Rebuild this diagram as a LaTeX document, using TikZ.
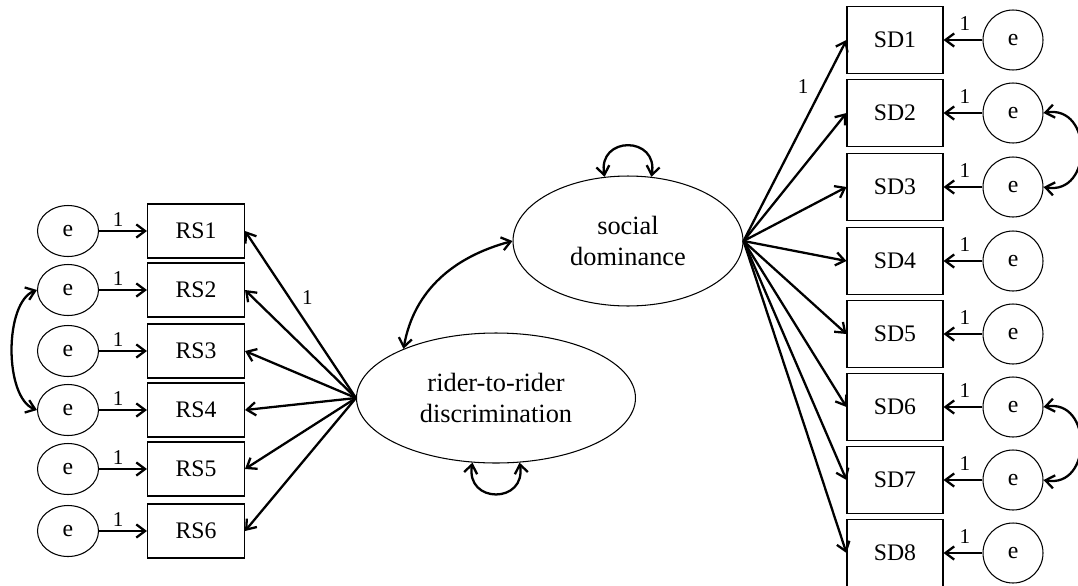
\documentclass[tikz,border=0pt]{standalone}
\usepackage{fontspec}
\setmainfont{Liberation Serif}
\usepackage{tikz}
\usetikzlibrary{
    arrows.meta,
    shapes.geometric
}

\begin{document}
\begin{tikzpicture}[x=0.02cm, y=0.02cm,
  latent/.style={draw, ellipse, line width=0.6pt, inner sep=0pt, minimum height=2.6cm, align=center, font=\fontsize{15}{17.6}\selectfont},
  obs/.style={draw, rectangle, line width=0.6pt, inner sep=0pt, font=\fontsize{13.5}{15}\selectfont},
  errl/.style={draw, ellipse, line width=0.6pt, inner sep=0pt, minimum width=1.22cm, minimum height=1.02cm, font=\fontsize{13.5}{15}\selectfont},
  errr/.style={draw, circle, line width=0.6pt, inner sep=0pt, minimum size=1.2cm, font=\fontsize{13.5}{15}\selectfont},
  load/.style={line width=1.3pt, -{Straight Barb[length=5pt, width=7.5pt]}},
  cov/.style={line width=1.3pt, {Straight Barb[length=5pt, width=7.5pt]}-{Straight Barb[length=5pt, width=7.5pt]}},
  wt/.style={font=\fontsize{12}{14}\selectfont, inner sep=2pt}]

  \useasboundingbox (0,0) rectangle (1078,-585);

  % Latent factors
  \node[latent, minimum width=5.58cm] (rider) at (496,-398) {rider-to-rider\\discrimination};
  \node[latent, minimum width=4.6cm] (social) at (628,-241) {social\\dominance};

  % Left indicators with errors
  \foreach \i/\y in {1/231, 2/290, 3/351, 4/410, 5/469, 6/531} {
    \node[obs, minimum width=1.94cm, minimum height=1.08cm] (RS\i) at (196,-\y) {RS\i};
    \node[errl] (eL\i) at (68,-\y) {e};
    \draw[load] (eL\i) -- node[wt, pos=0.4, above] {1} (RS\i);
    \draw[load] (rider.west) -- (RS\i.east);
  }

  % Right indicators with errors
  \foreach \i/\y in {1/40, 2/113, 3/187, 4/261, 5/334, 6/407, 7/480, 8/553} {
    \node[obs, minimum width=1.92cm, minimum height=1.34cm] (SD\i) at (895,-\y) {SD\i};
    \node[errr] (eR\i) at (1013,-\y) {e};
    \draw[load] (eR\i) -- node[wt, pos=0.45, above=3pt] {1} (SD\i);
    \draw[load] (social.east) -- (SD\i.west);
  }

  % Fixed loadings
  \path (rider.west) -- node[wt, pos=0.6, right=5pt] {1} (RS1.east);
  \path (social.east) -- node[wt, pos=0.77, left=6pt] {1} (SD1.west);

  % Variances
  \draw[cov] (rider.250) to[out=-100, in=-80, looseness=2.3] (rider.290);
  \draw[cov] (social.110) to[out=100, in=80, looseness=2.3] (social.70);

  % Covariances
  \draw[cov] (social.west) to[out=195, in=80] (rider.152);
  \draw[cov] (eL2.west) to[out=200, in=160, looseness=0.75] (eL4.west);
  \draw[cov] (eR2.east) to[out=10, in=-10, looseness=1.75] (eR3.east);
  \draw[cov] (eR6.east) to[out=10, in=-10, looseness=1.75] (eR7.east);

\end{tikzpicture}
\end{document}
